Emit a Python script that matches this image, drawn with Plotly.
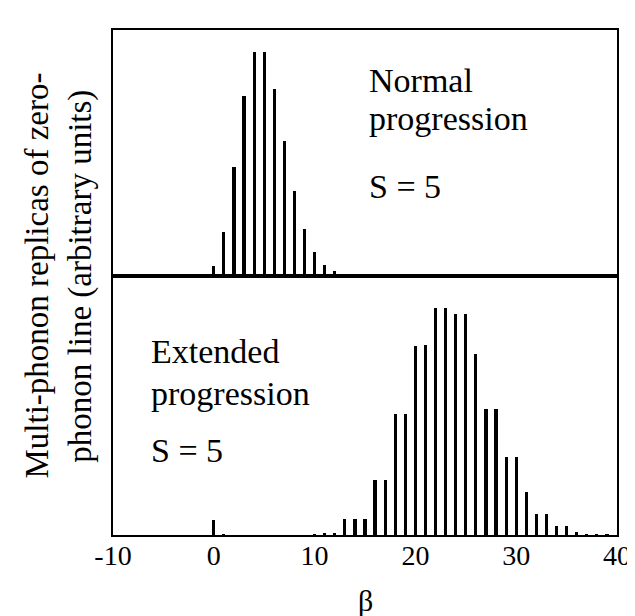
import plotly.graph_objects as go

# ---- data (arbitrary units) ----
normal_beta = [0, 1, 2, 3, 4, 5, 6, 7, 8, 9, 10, 11, 12, 13]
normal_amp = [9.4, 43.7, 108.4, 180, 223.7, 223.7, 186.7, 134.4, 84.4, 47, 23.4, 11, 4.4, 1.7]

extended_beta = [0, 1, 10, 11, 12, 13, 14, 15, 16, 17, 18, 19, 20, 21, 22, 23, 24, 25,
                 26, 27, 28, 29, 30, 31, 32, 33, 34, 35, 36, 37, 38, 39]
extended_amp = [16, 2, 2, 2.5, 2.5, 17, 17, 17, 56, 56, 122, 122, 190, 191, 227.5, 227.5,
                221.5, 221.5, 181.5, 127, 127, 78.5, 78.5, 44, 21.5, 21.5, 10, 10, 3.5, 2, 2, 1]

x_ticks = [-10, 0, 10, 20, 30, 40]
x_ticktext = ["-10", "0", "10", "20", "30", "40"]

FONT = "Liberation Serif"

# ---- geometry ----
W, H = 635, 616
ML, MR, MT, MB = 105, 16, 22, 89
PW, PH = W - ML - MR, H - MT - MB
split = (527.5 - 268) / PH


def px(xp):
    return (xp - ML) / PW


def py(yp):
    return (H - MB - yp) / PH


fig = go.Figure()
fig.add_trace(go.Bar(x=normal_beta, y=normal_amp, width=0.32, marker=dict(color="black", line=dict(width=0)),
                     xaxis="x", yaxis="y", showlegend=False))
fig.add_trace(go.Bar(x=extended_beta, y=extended_amp, width=0.32, marker=dict(color="black", line=dict(width=0)),
                     xaxis="x2", yaxis="y2", showlegend=False))

axis_common = dict(showgrid=False, zeroline=False, showline=True, linecolor="black", linewidth=2,
                   mirror=True, ticks="")

fig.update_layout(
    width=W, height=H,
    margin=dict(l=ML, r=MR, t=MT, b=MB, pad=0),
    paper_bgcolor="white", plot_bgcolor="white",
    bargap=0,
    font=dict(family=FONT, color="black", size=28),
    xaxis=dict(domain=[0, 1], anchor="y", range=[-10, 40], showticklabels=False, **axis_common),
    yaxis=dict(domain=[split, 1], anchor="x", range=[0, 246], showticklabels=False, **axis_common),
    xaxis2=dict(domain=[0, 1], anchor="y2", range=[-10, 40], tickvals=x_ticks, ticktext=x_ticktext,
                tickfont=dict(family=FONT, size=28, color="black"), ticklabelstandoff=-6,
                **axis_common),
    yaxis2=dict(domain=[0, split], anchor="x2", range=[0, 259.5], showticklabels=False, **axis_common),
)

ann_font = dict(family=FONT, size=34, color="black")
texts = [
    ("Normal", 364, 73),
    ("progression", 364, 110),
    ("S = 5", 364, 178),
    ("Extended", 142, 343),
    ("progression", 142, 385),
    ("S = 5", 142, 442),
]
for t, xx, yy in texts:
    fig.add_annotation(text=t, x=px(xx), y=py(yy), xref="paper", yref="paper",
                       xanchor="left", yanchor="middle", showarrow=False, font=ann_font)

# y-axis label (two lines)
fig.add_annotation(text="Multi-phonon replicas of zero-", x=px(27), y=py(268), xref="paper", yref="paper",
                   xanchor="center", yanchor="middle", textangle=-90, showarrow=False,
                   font=dict(family=FONT, size=33, color="black"))
fig.add_annotation(text="phonon line (arbitrary units)", x=px(71), y=py(268), xref="paper", yref="paper",
                   xanchor="center", yanchor="middle", textangle=-90, showarrow=False,
                   font=dict(family=FONT, size=33, color="black"))

# x-axis label
fig.add_annotation(text="β", x=px(362), y=py(592), xref="paper", yref="paper",
                   xanchor="center", yanchor="middle", showarrow=False,
                   font=dict(family=FONT, size=30, color="black"))

fig.write_html("out.html")
